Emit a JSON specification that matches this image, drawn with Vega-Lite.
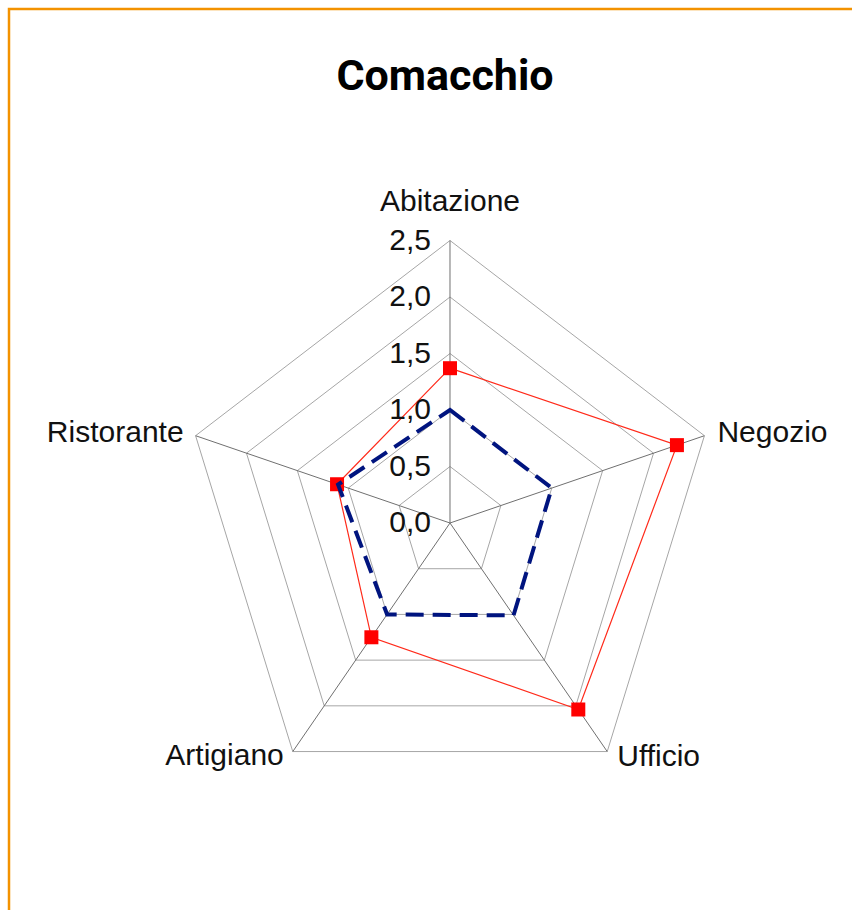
{
  "$schema": "https://vega.github.io/schema/vega-lite/v6.json",
  "width": 860,
  "height": 920,
  "autosize": {"type": "none"},
  "padding": {"left": 9, "top": 9, "right": 0, "bottom": 0},
  "background": "white",
  "config": {"view": {"stroke": "#f39200", "strokeWidth": 2.5}, "font": "Liberation Sans"},
  "title": {"text": "Comacchio", "font": "Roboto", "fontWeight": "bold", "fontSize": 43, "color": "black", "anchor": "middle", "baseline": "alphabetic", "offset": -124, "dx": 6},
  "datasets": {
    "axes": [
      {"axis": "Abitazione", "levels": [0.5, 1, 1.5, 2, 2.5]},
      {"axis": "Negozio", "levels": [0.5, 1, 1.5, 2, 2.5]},
      {"axis": "Ufficio", "levels": [0.5, 1, 1.5, 2, 2.5]},
      {"axis": "Artigiano", "levels": [0.5, 1, 1.5, 2, 2.5]},
      {"axis": "Ristorante", "levels": [0.5, 1, 1.5, 2, 2.5]}
    ],
    "ticks": [
      {"level": 0, "label": "0,0"},
      {"level": 0.5, "label": "0,5"},
      {"level": 1, "label": "1,0"},
      {"level": 1.5, "label": "1,5"},
      {"level": 2, "label": "2,0"},
      {"level": 2.5, "label": "2,5"}
    ],
    "series": [
      {"serie": "A", "axis": "Abitazione", "value": 1.37},
      {"serie": "A", "axis": "Negozio", "value": 2.23},
      {"serie": "A", "axis": "Ufficio", "value": 2.04},
      {"serie": "A", "axis": "Artigiano", "value": 1.25},
      {"serie": "A", "axis": "Ristorante", "value": 1.11},
      {"serie": "B", "axis": "Abitazione", "value": 1.0},
      {"serie": "B", "axis": "Negozio", "value": 1.0},
      {"serie": "B", "axis": "Ufficio", "value": 1.01},
      {"serie": "B", "axis": "Artigiano", "value": 1.0},
      {"serie": "B", "axis": "Ristorante", "value": 1.1}
    ]
  },
  "layer": [
    {
      "data": {"name": "axes"},
      "transform": [
        {"flatten": ["levels"], "as": ["level"]},
        {"calculate": "indexof(['Abitazione','Negozio','Ufficio','Artigiano','Ristorante'], datum.axis)", "as": "i"},
        {"calculate": "datum.level * sin(datum.i * 2 * PI / 5)", "as": "x"},
        {"calculate": "datum.level * cos(datum.i * 2 * PI / 5)", "as": "y"}
      ],
      "mark": {"type": "line", "interpolate": "linear-closed", "color": "#a6a6a6", "strokeWidth": 1},
      "encoding": {
        "x": {"field": "x", "type": "quantitative", "scale": {"domain": [-4.1215, 3.9159], "nice": false, "zero": false}, "axis": null},
        "y": {"field": "y", "type": "quantitative", "scale": {"domain": [-3.5929, 4.5487], "nice": false, "zero": false}, "axis": null},
        "detail": {"field": "level", "type": "nominal"},
        "order": {"field": "i", "type": "quantitative"}
      }
    },
    {
      "data": {"name": "axes"},
      "transform": [
        {"calculate": "indexof(['Abitazione','Negozio','Ufficio','Artigiano','Ristorante'], datum.axis)", "as": "i"},
        {"calculate": "0", "as": "z"},
        {"calculate": "2.5 * sin(datum.i * 2 * PI / 5)", "as": "x"},
        {"calculate": "2.5 * cos(datum.i * 2 * PI / 5)", "as": "y"}
      ],
      "mark": {"type": "rule", "color": "#707070", "strokeWidth": 1},
      "encoding": {
        "x": {"field": "z", "type": "quantitative"},
        "y": {"field": "z", "type": "quantitative"},
        "x2": {"field": "x"},
        "y2": {"field": "y"}
      }
    },
    {
      "data": {"name": "series"},
      "transform": [
        {"filter": "datum.serie === 'A'"},
        {"calculate": "indexof(['Abitazione','Negozio','Ufficio','Artigiano','Ristorante'], datum.axis)", "as": "i"},
        {"calculate": "datum.value * sin(datum.i * 2 * PI / 5)", "as": "x"},
        {"calculate": "datum.value * cos(datum.i * 2 * PI / 5)", "as": "y"}
      ],
      "layer": [
        {
          "mark": {"type": "line", "interpolate": "linear-closed", "color": "#ff2a1a", "strokeWidth": 1.2},
          "encoding": {
            "x": {"field": "x", "type": "quantitative"},
            "y": {"field": "y", "type": "quantitative"},
            "order": {"field": "i", "type": "quantitative"}
          }
        },
        {
          "mark": {"type": "point", "shape": "square", "filled": true, "size": 196, "color": "#ff0000", "opacity": 1},
          "encoding": {
            "x": {"field": "x", "type": "quantitative"},
            "y": {"field": "y", "type": "quantitative"}
          }
        }
      ]
    },
    {
      "data": {"name": "series"},
      "transform": [
        {"filter": "datum.serie === 'B'"},
        {"calculate": "indexof(['Abitazione','Negozio','Ufficio','Artigiano','Ristorante'], datum.axis)", "as": "i"},
        {"calculate": "datum.value * sin(datum.i * 2 * PI / 5)", "as": "x"},
        {"calculate": "datum.value * cos(datum.i * 2 * PI / 5)", "as": "y"}
      ],
      "mark": {"type": "line", "interpolate": "linear-closed", "color": "#00147f", "strokeWidth": 4, "strokeDash": [18, 9]},
      "encoding": {
        "x": {"field": "x", "type": "quantitative"},
        "y": {"field": "y", "type": "quantitative"},
        "order": {"field": "i", "type": "quantitative"}
      }
    },
    {
      "data": {"name": "ticks"},
      "transform": [{"calculate": "0", "as": "z"}],
      "mark": {"type": "text", "align": "right", "baseline": "middle", "dx": -19, "fontSize": 30, "color": "#111111"},
      "encoding": {
        "x": {"field": "z", "type": "quantitative"},
        "y": {"field": "level", "type": "quantitative"},
        "text": {"field": "label"}
      }
    },
    {
      "data": {"name": "axes"},
      "transform": [
        {"filter": "datum.axis === 'Abitazione'"},
        {"calculate": "0", "as": "x"},
        {"calculate": "2.5", "as": "y"}
      ],
      "mark": {"type": "text", "align": "center", "baseline": "alphabetic", "dy": -30, "fontSize": 30, "color": "#111111"},
      "encoding": {
        "x": {"field": "x", "type": "quantitative"},
        "y": {"field": "y", "type": "quantitative"},
        "text": {"field": "axis"}
      }
    },
    {
      "data": {"name": "axes"},
      "transform": [
        {"filter": "datum.axis === 'Negozio'"},
        {"calculate": "indexof(['Abitazione','Negozio','Ufficio','Artigiano','Ristorante'], datum.axis)", "as": "i"},
        {"calculate": "2.5 * sin(datum.i * 2 * PI / 5)", "as": "x"},
        {"calculate": "2.5 * cos(datum.i * 2 * PI / 5)", "as": "y"}
      ],
      "mark": {"type": "text", "align": "left", "baseline": "alphabetic", "dx": 13, "dy": 6, "fontSize": 30, "color": "#111111"},
      "encoding": {
        "x": {"field": "x", "type": "quantitative"},
        "y": {"field": "y", "type": "quantitative"},
        "text": {"field": "axis"}
      }
    },
    {
      "data": {"name": "axes"},
      "transform": [
        {"filter": "datum.axis === 'Ufficio'"},
        {"calculate": "indexof(['Abitazione','Negozio','Ufficio','Artigiano','Ristorante'], datum.axis)", "as": "i"},
        {"calculate": "2.5 * sin(datum.i * 2 * PI / 5)", "as": "x"},
        {"calculate": "2.5 * cos(datum.i * 2 * PI / 5)", "as": "y"}
      ],
      "mark": {"type": "text", "align": "left", "baseline": "alphabetic", "dx": 10, "dy": 14, "fontSize": 30, "color": "#111111"},
      "encoding": {
        "x": {"field": "x", "type": "quantitative"},
        "y": {"field": "y", "type": "quantitative"},
        "text": {"field": "axis"}
      }
    },
    {
      "data": {"name": "axes"},
      "transform": [
        {"filter": "datum.axis === 'Artigiano'"},
        {"calculate": "indexof(['Abitazione','Negozio','Ufficio','Artigiano','Ristorante'], datum.axis)", "as": "i"},
        {"calculate": "2.5 * sin(datum.i * 2 * PI / 5)", "as": "x"},
        {"calculate": "2.5 * cos(datum.i * 2 * PI / 5)", "as": "y"}
      ],
      "mark": {"type": "text", "align": "right", "baseline": "alphabetic", "dx": -9, "dy": 13, "fontSize": 30, "color": "#111111"},
      "encoding": {
        "x": {"field": "x", "type": "quantitative"},
        "y": {"field": "y", "type": "quantitative"},
        "text": {"field": "axis"}
      }
    },
    {
      "data": {"name": "axes"},
      "transform": [
        {"filter": "datum.axis === 'Ristorante'"},
        {"calculate": "indexof(['Abitazione','Negozio','Ufficio','Artigiano','Ristorante'], datum.axis)", "as": "i"},
        {"calculate": "2.5 * sin(datum.i * 2 * PI / 5)", "as": "x"},
        {"calculate": "2.5 * cos(datum.i * 2 * PI / 5)", "as": "y"}
      ],
      "mark": {"type": "text", "align": "right", "baseline": "alphabetic", "dx": -12, "dy": 6, "fontSize": 30, "color": "#111111"},
      "encoding": {
        "x": {"field": "x", "type": "quantitative"},
        "y": {"field": "y", "type": "quantitative"},
        "text": {"field": "axis"}
      }
    }
  ]
}
